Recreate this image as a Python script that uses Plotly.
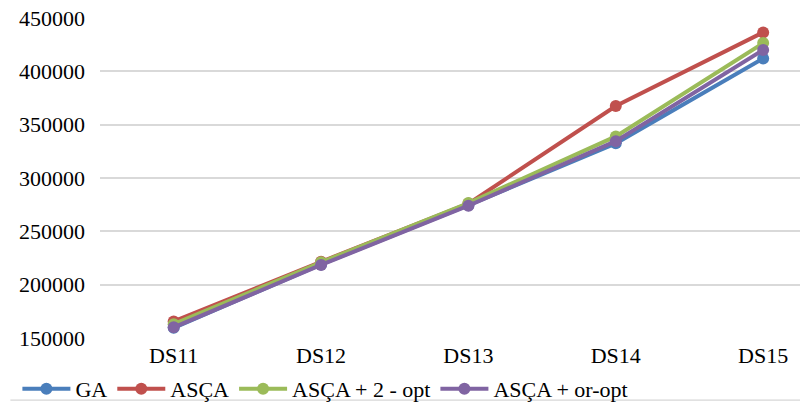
import plotly.graph_objects as go

categories = ["DS11", "DS12", "DS13", "DS14", "DS15"]
ga = [159500, 219000, 274500, 332500, 412000]
asca = [165500, 221500, 276000, 367500, 436500]
asca_2opt = [163000, 221000, 276500, 339000, 426500]
asca_oropt = [160000, 218500, 274000, 334500, 420000]
yticks = [150000, 200000, 250000, 300000, 350000, 400000, 450000]

series = [
    ("GA", ga, "#4A7EBB"),
    ("ASÇA", asca, "#C0504D"),
    ("ASÇA + 2 - opt", asca_2opt, "#9BBB59"),
    ("ASÇA + or-opt", asca_oropt, "#8064A2"),
]

fig = go.Figure()
for name, vals, col in series:
    fig.add_trace(go.Scatter(
        x=list(range(len(categories))), y=vals, name=name, mode="lines+markers",
        line=dict(color=col, width=4), marker=dict(color=col, size=12),
    ))

font = dict(family="Liberation Serif, Times New Roman, serif", size=22, color="#000000")
fig.update_layout(
    width=800, height=410,
    margin=dict(l=100, r=0, t=18, b=67),
    paper_bgcolor="white", plot_bgcolor="white",
    font=font,
    showlegend=True,
    legend=dict(orientation="h", x=-0.118, xanchor="left", y=-0.16, yanchor="middle",
                font=font, itemwidth=48, tracegroupgap=0, bgcolor="rgba(0,0,0,0)"),
    xaxis=dict(
        tickmode="array", tickvals=list(range(len(categories))), ticktext=categories,
        range=[-0.5, 4.25], showgrid=False, zeroline=False, showline=False,
        ticks="", tickfont=font, ticklabelstandoff=2,
    ),
    yaxis=dict(
        range=[150000, 450000], tickvals=yticks, tickformat="d",
        showgrid=True, gridcolor="#D9D9D9", gridwidth=1.5, zeroline=False,
        showline=False, ticks="", tickfont=font, ticklabelstandoff=14,
    ),
)
fig.add_shape(type="line", xref="paper", yref="paper", x0=-0.128, x1=1, y0=-0.194, y1=-0.194,
              line=dict(color="#CCCCCC", width=1))
fig.write_html("out.html")
